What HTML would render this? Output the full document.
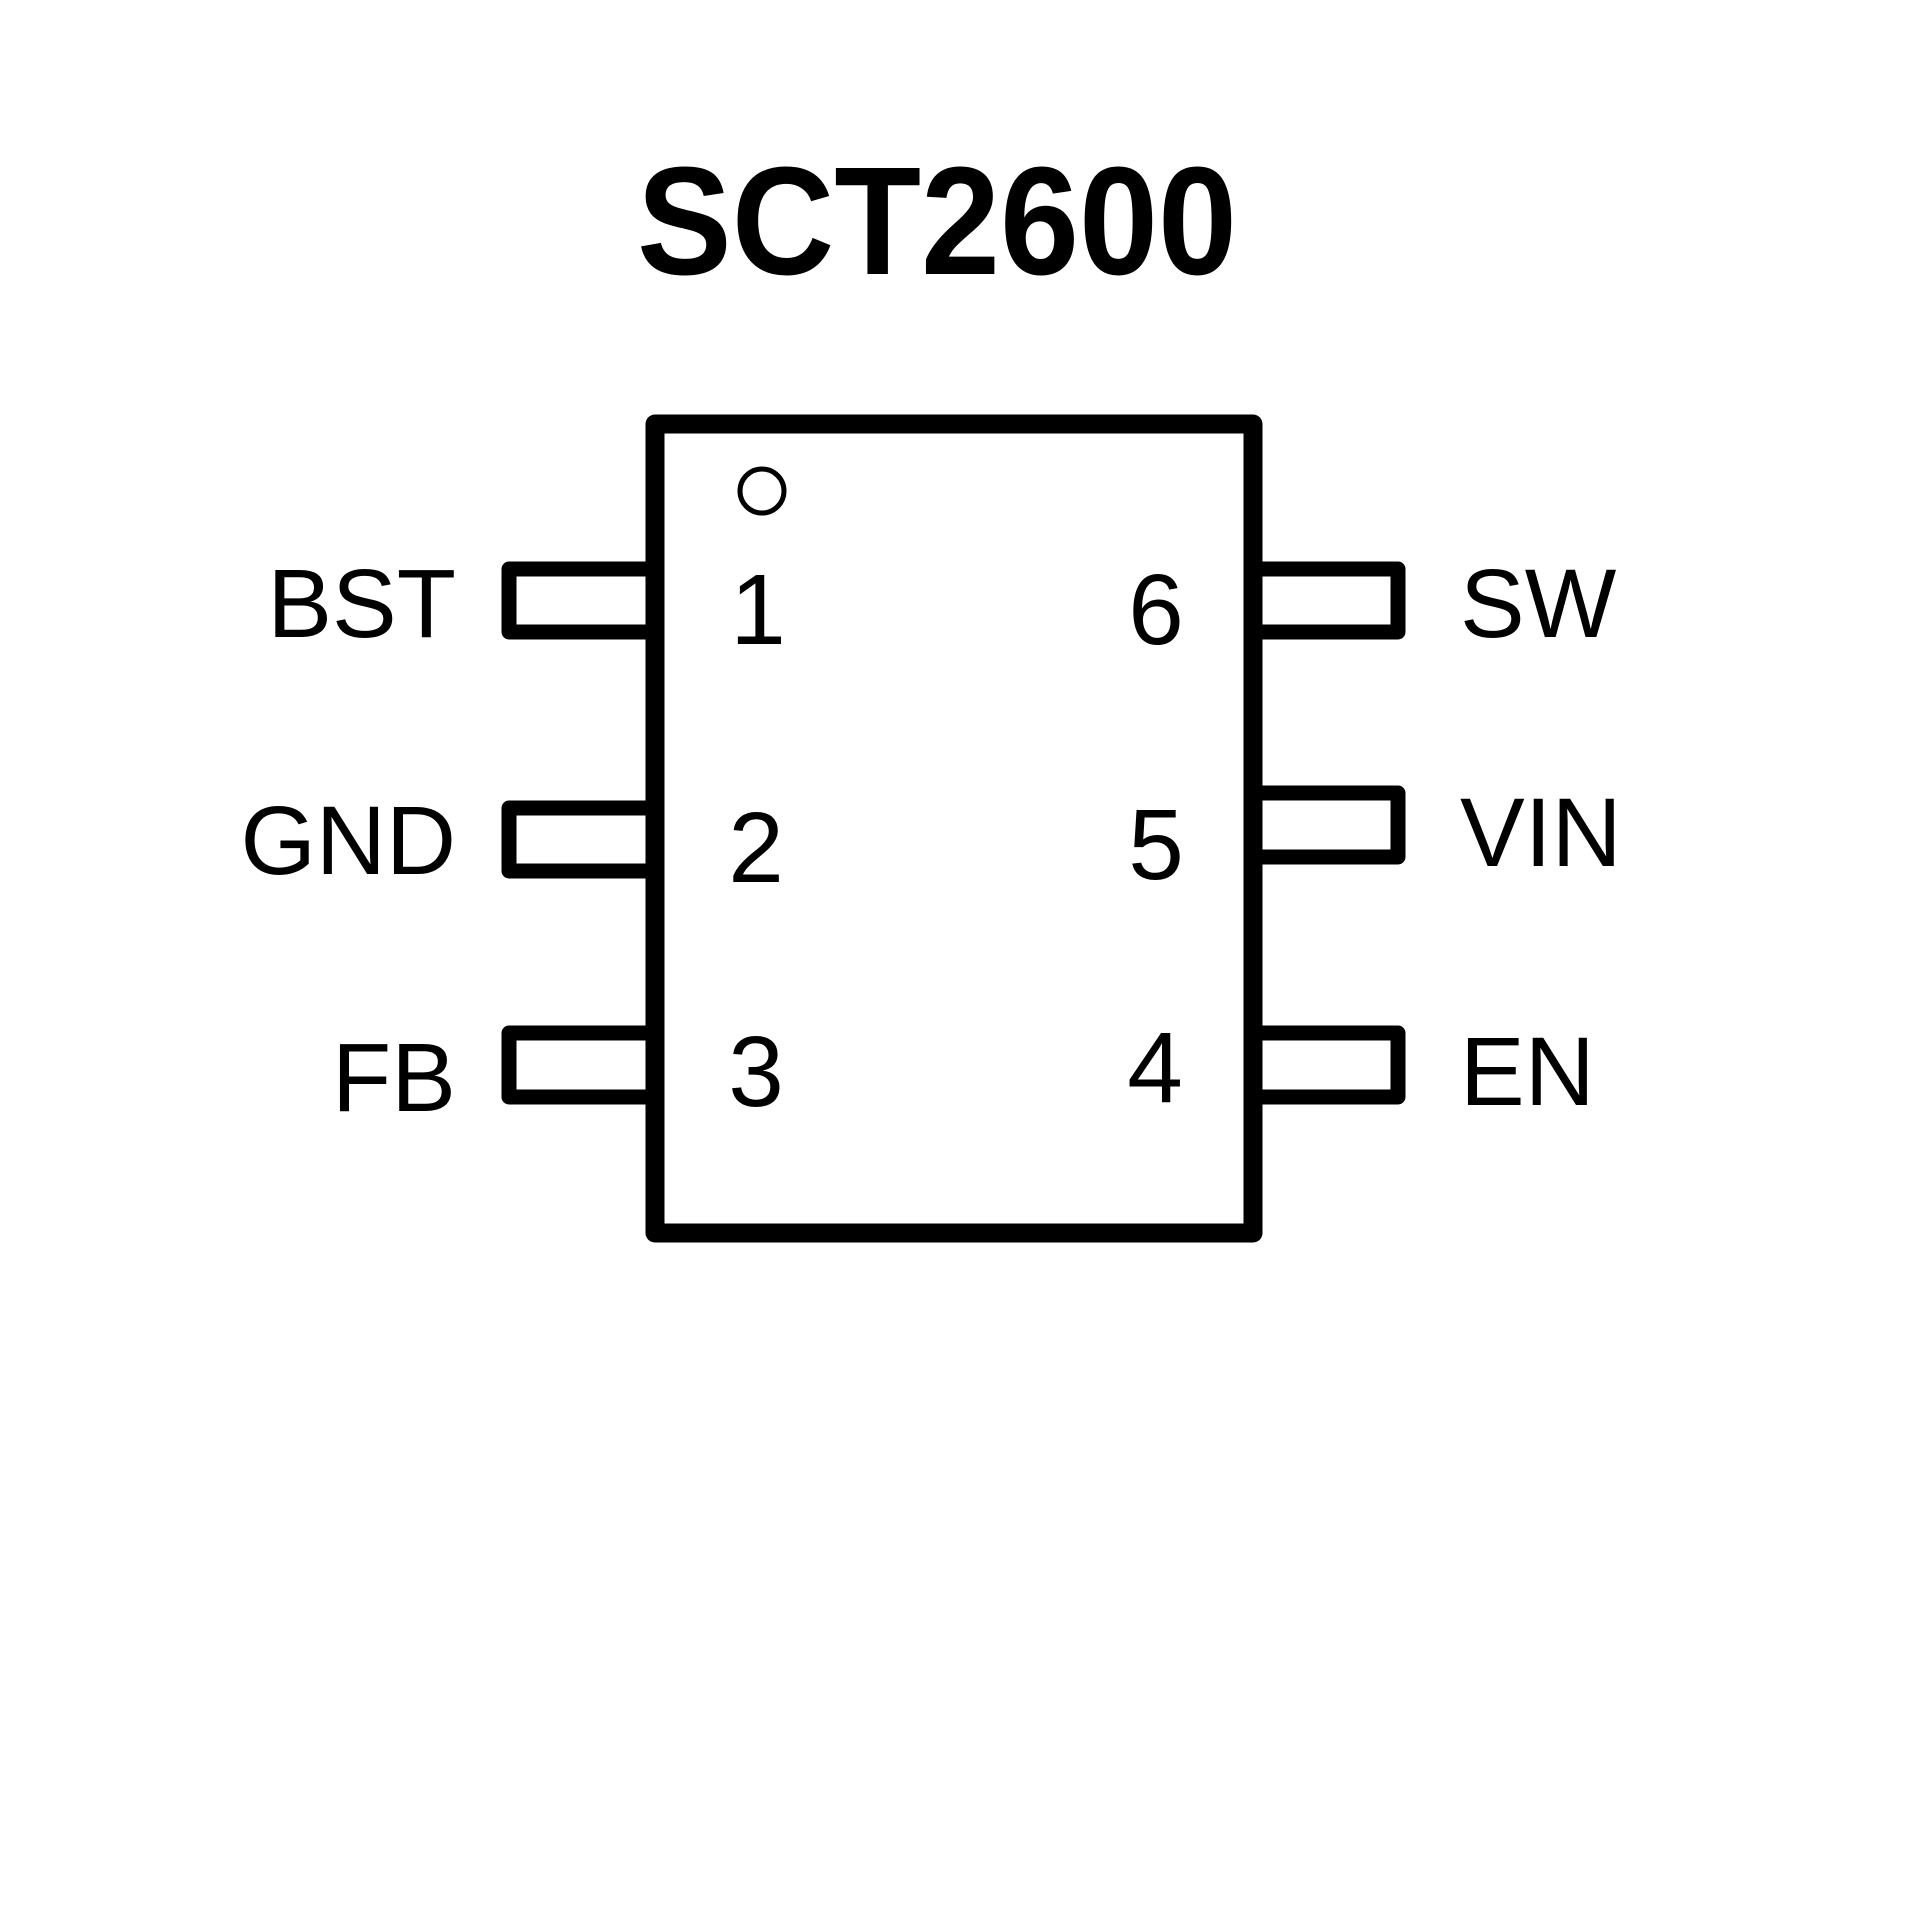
<!DOCTYPE html>
<html><head><meta charset="utf-8"><style>html,body{margin:0;padding:0;background:#fff}svg{display:block}</style></head>
<body>
<svg width="1920" height="1920" viewBox="0 0 1920 1920" xmlns="http://www.w3.org/2000/svg">
<rect width="1920" height="1920" fill="#fff"/>
<text x="637" y="274" font-family="Liberation Sans, sans-serif" font-weight="bold" font-size="154" textLength="600" lengthAdjust="spacingAndGlyphs">SCT2600</text>
<g fill="none" stroke="#000" stroke-width="18" stroke-linejoin="round">
<rect x="655" y="424" width="598" height="809" stroke-width="19"/>
<polyline points="647,569 509,569 509,632 647,632" stroke-width="15"/>
<polyline points="647,808 509,808 509,871 647,871" stroke-width="15"/>
<polyline points="647,1033 509,1033 509,1097 647,1097" stroke-width="15"/>
<polyline points="1261,569 1398,569 1398,632 1261,632" stroke-width="15"/>
<polyline points="1261,793 1398,793 1398,857 1261,857" stroke-width="15"/>
<polyline points="1261,1033 1398,1033 1398,1097 1261,1097" stroke-width="15"/>
</g>
<circle cx="762" cy="491" r="22" fill="none" stroke="#000" stroke-width="5"/>
<g font-family="Liberation Sans, sans-serif" font-size="97" fill="#000">
<text x="456" y="637" text-anchor="end">BST</text>
<text x="456" y="874" text-anchor="end">GND</text>
<text x="456" y="1111" text-anchor="end">FB</text>
<text x="1460" y="637">SW</text>
<text x="1460" y="866">VIN</text>
<text x="1460" y="1105">EN</text>
</g>
<g font-family="Liberation Sans, sans-serif" font-size="100" fill="#000" text-anchor="middle">
<text x="758" y="644">1</text>
<text x="756" y="882">2</text>
<text x="756" y="1106">3</text>
<text x="1156" y="644">6</text>
<text x="1156" y="879">5</text>
<text x="1155" y="1102">4</text>
</g>
</svg>
</body></html>
